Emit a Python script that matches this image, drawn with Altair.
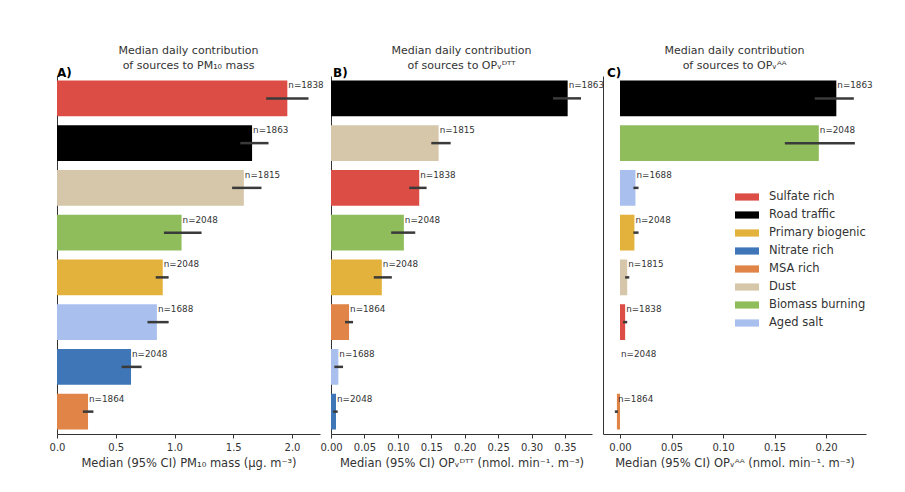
import altair as alt
import pandas as pd

# ---------------- data ----------------
legend_order = ["Sulfate rich", "Road traffic", "Primary biogenic", "Nitrate rich",
                "MSA rich", "Dust", "Biomass burning", "Aged salt"]
legend_colors = ["#dc4e45", "#000000", "#e2b23c", "#3f76b8",
                 "#e08447", "#d6c7aa", "#90bd5c", "#a9c0ef"]

sources_A = ["Sulfate rich", "Road traffic", "Dust", "Biomass burning",
             "Primary biogenic", "Aged salt", "Nitrate rich", "MSA rich"]
med_A = [1.96, 1.66, 1.59, 1.06, 0.90, 0.85, 0.63, 0.264]
lo_A = [1.78, 1.56, 1.49, 0.91, 0.84, 0.77, 0.55, 0.22]
hi_A = [2.14, 1.80, 1.74, 1.23, 0.95, 0.95, 0.72, 0.31]
n_A = [1838, 1863, 1815, 2048, 2048, 1688, 2048, 1864]

sources_B = ["Road traffic", "Dust", "Sulfate rich", "Biomass burning",
             "Primary biogenic", "MSA rich", "Aged salt", "Nitrate rich"]
med_B = [0.354, 0.161, 0.132, 0.109, 0.076, 0.027, 0.011, 0.0075]
lo_B = [0.332, 0.150, 0.117, 0.090, 0.064, 0.021, 0.005, 0.003]
hi_B = [0.374, 0.179, 0.143, 0.126, 0.091, 0.033, 0.018, 0.010]
n_B = [1863, 1815, 1838, 2048, 2048, 1864, 1688, 2048]

sources_C = ["Road traffic", "Biomass burning", "Aged salt", "Primary biogenic",
             "Dust", "Sulfate rich", "Nitrate rich", "MSA rich"]
med_C = [0.210, 0.193, 0.015, 0.014, 0.007, 0.005, 0.0, -0.003]
lo_C = [0.189, 0.160, 0.013, 0.013, 0.005, 0.003, 0.0, -0.005]
hi_C = [0.227, 0.228, 0.018, 0.018, 0.009, 0.007, 0.0, -0.002]
n_C = [1863, 2048, 1688, 2048, 1815, 1838, 2048, 1864]

titles = [
    ["Median daily contribution", "of sources to PM\u2081\u2080 mass"],
    ["Median daily contribution", "of sources to OP\u1d65\u1d30\u1d40\u1d40"],
    ["Median daily contribution", "of sources to OP\u1d65\u1d2c\u1d2c"],
]
xtitles = [
    "Median (95% CI) PM\u2081\u2080 mass (\u03bcg. m\u207b\u00b3)",
    "Median (95% CI) OP\u1d65\u1d30\u1d40\u1d40 (nmol. min\u207b\u00b9. m\u207b\u00b3)",
    "Median (95% CI) OP\u1d65\u1d2c\u1d2c (nmol. min\u207b\u00b9. m\u207b\u00b3)",
]
letters = ["A)", "B)", "C)"]

TXT = "#333333"
H = 358


def panel(sources, med, lo, hi, n, domain, ticks, fmt, width, title, xtitle, letter, show_legend, letter_x):
    df = pd.DataFrame({"source": sources, "med": med, "lo": lo, "hi": hi,
                       "n": [f"n={v}" for v in n]})
    yscale = alt.Scale(paddingInner=0.2, paddingOuter=0.1)
    yaxis = alt.Axis(labels=False, ticks=False, title=None, domain=True,
                     domainColor=TXT, grid=False)
    xscale = alt.Scale(domain=domain, nice=False, zero=False)
    xaxis = alt.Axis(values=ticks, format=fmt, title=xtitle, grid=False, labelFlush=False)

    def X(f):
        return alt.X(f"{f}:Q", scale=xscale, axis=xaxis)

    def Y(**kw):
        return alt.Y("source:N", sort=sources, scale=yscale, axis=yaxis, **kw)

    if show_legend:
        leg = alt.Legend(orient="none", legendX=132, legendY=109, title=None,
                         symbolType="M-1,-0.3L1,-0.3L1,0.3L-1,0.3Z", symbolSize=576,
                         symbolStrokeWidth=0, labelFontSize=11.5, labelColor=TXT,
                         labelOffset=10, rowPadding=0)
    else:
        leg = None
    color = alt.Color("source:N", scale=alt.Scale(domain=legend_order, range=legend_colors),
                      legend=leg)

    base = alt.Chart(df)
    bars = base.mark_bar().encode(x=X("med"), x2=alt.X2(datum=0), y=Y(), color=color)
    err = base.mark_rule(strokeWidth=2.5, color="#3a3a3a").encode(x=X("lo"), x2="hi:Q", y=Y())
    labels = base.mark_text(align="left", baseline="top", dx=1, dy=1, fontSize=8.8,
                            color=TXT).encode(x=X("med"), y=Y(bandPosition=0), text="n:N")
    let = alt.Chart(pd.DataFrame({"t": [letter]})).mark_text(
        align="left", baseline="alphabetic", fontWeight="bold", fontSize=12, color="#000"
    ).encode(x=alt.value(letter_x), y=alt.value(1), text="t:N")
    return alt.layer(bars, err, labels, let).properties(
        width=width, height=H,
        title=alt.TitleParams(text=title, fontSize=11, fontWeight="normal", color=TXT,
                              anchor="middle", lineHeight=15, offset=-4),
    )


pA = panel(sources_A, med_A, lo_A, hi_A, n_A, [0, 2.238], [0, 0.5, 1.0, 1.5, 2.0], ".1f",
           263, titles[0], xtitles[0], letters[0], False, 0)
pB = panel(sources_B, med_B, lo_B, hi_B, n_B, [0, 0.3904],
           [0, 0.05, 0.10, 0.15, 0.20, 0.25, 0.30, 0.35], ".2f",
           261, titles[1], xtitles[1], letters[1], False, 2)
pC = panel(sources_C, med_C, lo_C, hi_C, n_C, [-0.0165, 0.2388],
           [0, 0.05, 0.10, 0.15, 0.20], ".2f",
           263, titles[2], xtitles[2], letters[2], True, 4)

chart = alt.hconcat(pA, pB, pC, spacing=11, bounds="flush").resolve_scale(
    color="independent", x="independent", y="independent"
).properties(
    padding={"left": 41, "top": 37, "right": 5, "bottom": 5}
).configure(
    font="DejaVu Sans"
).configure_view(
    stroke=None
).configure_axis(
    labelFontSize=10, labelColor=TXT, titleFontSize=11.5, titleColor=TXT,
    titleFontWeight="normal", tickColor=TXT, tickSize=4, domainColor=TXT,
    labelPadding=4, titlePadding=5
)

chart.save("out.html", embed_options={"renderer": "svg", "actions": False})
